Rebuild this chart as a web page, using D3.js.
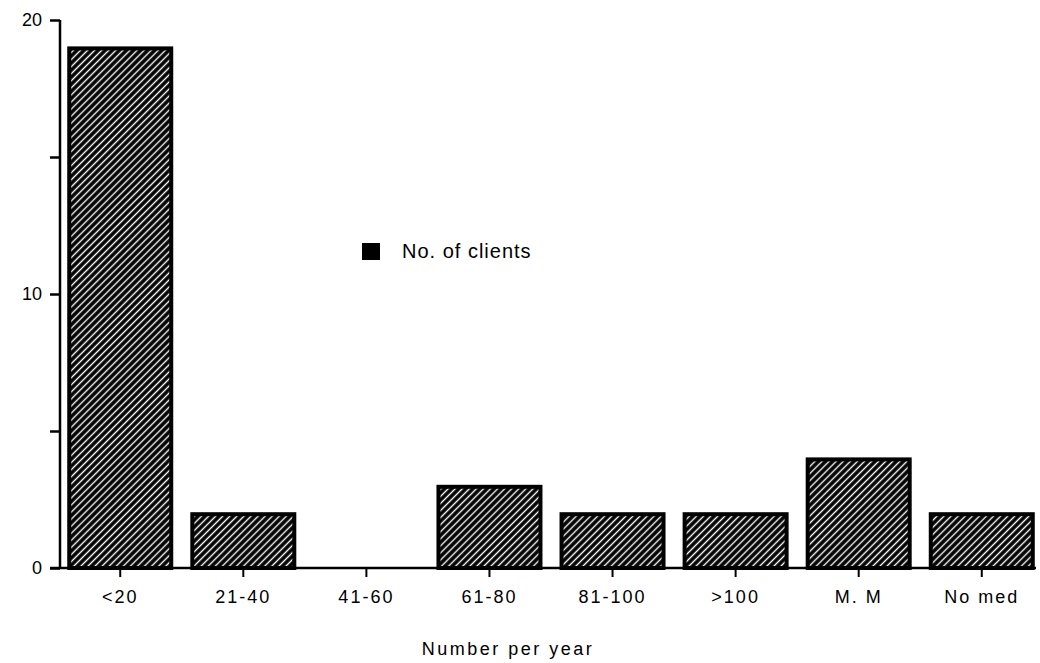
<!DOCTYPE html>
<html><head><meta charset="utf-8">
<script src="https://cdn.jsdelivr.net/npm/d3@7"></script>
<style>body{margin:0;background:#fff}svg{display:block}text{font-family:"Liberation Sans",Arial,sans-serif;fill:#000}</style>
</head><body>
<script>
const categories = ["<20","21-40","41-60","61-80","81-100",">100","M. M","No med"];
const clients = [19,2,0,3,2,2,4,2];
const yTicksMajor = [0,10,20];
const yTicksMinor = [5,15];
const seriesName = "No. of clients";
const xTitle = "Number per year";

const W=1040,H=663;
const svg=d3.select("body").append("svg").attr("width",W).attr("height",H);
const defs=svg.append("defs");
const pat=defs.append("pattern").attr("id","hatch").attr("patternUnits","userSpaceOnUse")
  .attr("width",5).attr("height",10).attr("patternTransform","rotate(45)");
pat.append("rect").attr("width",5).attr("height",10).attr("fill","#000");
pat.append("line").attr("x1",2.5).attr("x2",2.5).attr("y1",0).attr("y2",10).attr("stroke","#fff").attr("stroke-width",1.4);

const x=d3.scaleBand().domain(categories).range([59,1043]).paddingInner(0.155).paddingOuter(0.075);
const y=d3.scaleLinear().domain([0,20]).range([568,20]);

// bars
svg.append("g").selectAll("rect").data(categories.map((c,i)=>({c,v:clients[i]})).filter(d=>d.v>0))
  .join("rect").attr("x",d=>x(d.c)+1).attr("width",x.bandwidth()-2)
  .attr("y",d=>y(d.v)+1).attr("height",d=>y(0)-y(d.v)-1)
  .attr("fill","url(#hatch)").attr("stroke","#000").attr("stroke-width",4);

// y axis
const ya=svg.append("g").attr("transform","translate(60,0)")
  .call(d3.axisLeft(y).tickValues(yTicksMajor.concat(yTicksMinor)).tickSize(10).tickPadding(8)
    .tickFormat(d=>yTicksMajor.includes(d)?d:""));
ya.select(".domain").attr("d",`M0,${y(20)}V${y(0)}`).attr("stroke-width",2.5);
ya.selectAll(".tick line").attr("stroke-width",2.5);
ya.selectAll("text").style("font-size","18px");

// x axis
const xa=svg.append("g").attr("transform",`translate(0,${y(0)})`)
  .call(d3.axisBottom(x).tickSize(9).tickPadding(13));
xa.select(".domain").attr("d","M50,0H1036").attr("stroke-width",2.5);
xa.selectAll(".tick line").attr("stroke-width",2);
xa.selectAll("text").style("font-size","18px").style("letter-spacing","2px");

// x title
svg.append("text").attr("x",508).attr("y",655).attr("text-anchor","middle")
  .style("font-size","18px").style("letter-spacing","2.5px").text(xTitle);

// legend
const lg=svg.append("g");
lg.append("rect").attr("x",362).attr("y",243).attr("width",18).attr("height",17).attr("fill","#000");
lg.append("text").attr("x",402).attr("y",258).style("font-size","20px").style("letter-spacing","1px").text(seriesName);
</script>
</body></html>
